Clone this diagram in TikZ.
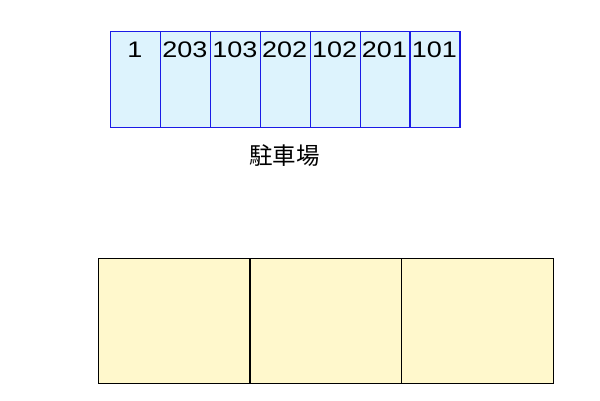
\documentclass[tikz,border=0pt]{standalone}
\usepackage{fontspec}
\setmainfont{Liberation Sans}
\newfontfamily\cjk{Noto Sans CJK JP}
\definecolor{pfill}{HTML}{DDF3FD}
\definecolor{pline}{HTML}{1A1AE6}
\definecolor{bfill}{HTML}{FFF8CC}
\newcommand{\widedigits}[1]{\scalebox{1.2}[1]{#1}}
\begin{document}
\begin{tikzpicture}[x=1pt,y=-1pt,
  slot/.style={draw=pline,fill=pfill,line width=1.3pt,minimum width=50pt,minimum height=96pt,inner sep=0pt,anchor=north west},
  slotlabel/.style={font=\fontsize{22.5}{22.5}\selectfont,inner sep=0pt},
  room/.style={draw=black,fill=bfill,line width=1.4pt,minimum width=151.7pt,minimum height=125pt,inner sep=0pt,anchor=north west}]
\useasboundingbox (0,0) rectangle (600,400);
\foreach \i/\t in {0/1,1/203,2/103,3/202,4/102,5/201,6/101}{
  \node[slot] (s\i) at ({110+49.9*\i},31) {};
  \node[slotlabel] (l\i) at ({135+49.9*\i},49.5) {\widedigits{\t}};
}
\node[font=\cjk\fontsize{23.5}{23.5}\selectfont,inner sep=0pt] (park) at (284.5,155.5) {駐車場};
\foreach \i in {0,1,2}{
  \node[room] (r\i) at ({97.5+151.7*\i},257.5) {};
}
\end{tikzpicture}
\end{document}
